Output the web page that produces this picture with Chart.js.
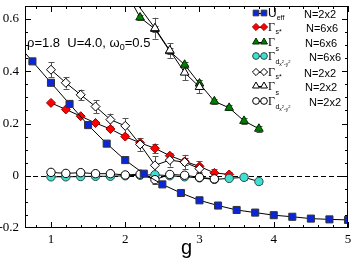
<!DOCTYPE html>
<html>
<head>
<meta charset="utf-8">
<script src="https://cdn.jsdelivr.net/npm/chart.js@4.4.1/dist/chart.umd.min.js"></script>
<style>
  html, body { margin: 0; padding: 0; background: #fff; }
  #wrap { width: 354px; height: 260px; }
</style>
</head>
<body>
<div id="wrap"><canvas id="c" width="354" height="260"></canvas></div>
<script>
// x ticks / y ticks
const xTicks = [1, 2, 3, 4, 5];
const yTicks = [-0.2, 0, 0.2, 0.4, 0.6];

// U_eff, N=2x2 (first point lies left of the visible range)
const gUeff = [0.5, 0.75, 1.0, 1.25, 1.5, 1.75, 2.0, 2.25, 2.5, 2.75, 3.0, 3.25, 3.5, 3.75, 4.0, 4.25, 4.5, 4.75, 5.0];
const uEff  = [0.52, 0.438, 0.356, 0.275, 0.194, 0.123, 0.06, 0.008, -0.033, -0.066, -0.094, -0.114, -0.131, -0.141, -0.151, -0.157, -0.164, -0.167, -0.169];

// Gamma s*, N=6x6
const gSstar6 = [1.0, 1.2, 1.4, 1.6, 1.8, 2.0, 2.2, 2.4, 2.6, 2.8, 3.0, 3.2, 3.4];
const sStar6  = [0.279, 0.254, 0.228, 0.202, 0.179, 0.150, 0.126, 0.105, 0.077, 0.055, 0.036, 0.011, 0.005];
const sStar6Err = [0.004, 0.004, 0.004, 0.005, 0.005, 0.006, 0.008, 0.018, 0.012, 0.012, 0.02, 0.015, 0.01];

// Gamma s, N=6x6 (first point above the visible range)
const gS6 = [2.0, 2.2, 2.4, 2.6, 2.8, 3.0, 3.2, 3.4, 3.6, 3.8];
const s6  = [0.71, 0.606, 0.562, 0.477, 0.425, 0.353, 0.285, 0.26, 0.21, 0.18];
const s6Err = [0.01, 0.01, 0.012, 0.012, 0.012, 0.015, 0.01, 0.01, 0.012, 0.012];

// Gamma d, N=6x6
const gD6 = [1.0, 1.2, 1.4, 1.6, 1.8, 2.0, 2.2, 2.4, 2.6, 2.8, 3.0, 3.2, 3.4, 3.6, 3.8];
const d6  = [-0.004, -0.004, -0.003, -0.002, -0.002, 0.0, 0.002, 0.004, 0.0, -0.004, -0.008, -0.014, -0.01, -0.006, -0.022];
const d6Err = [0, 0, 0, 0, 0, 0, 0, 0.012, 0, 0, 0, 0.006, 0, 0.012, 0.008];

// Gamma s*, N=2x2
const gSstar2 = [1.0, 1.2, 1.4, 1.6, 1.8, 2.0, 2.2, 2.4, 2.6, 2.8, 3.0];
const sStar2  = [0.406, 0.356, 0.31, 0.265, 0.215, 0.191, 0.12, 0.04, 0.06, 0.052, 0.027];
const sStar2Err = [0.028, 0.022, 0.02, 0.025, 0.023, 0.03, 0.025, 0.035, 0.025, 0.028, 0.018];

// Gamma s, N=2x2 (first point above the visible range)
const gS2 = [2.0, 2.4, 2.6, 2.8, 3.0];
const s2  = [0.72, 0.565, 0.48, 0.395, 0.34];
const s2Err = [0.03, 0.04, 0.028, 0.03, 0.025];

// Gamma d, N=2x2
const gD2 = [1.0, 1.2, 1.4, 1.6, 1.8, 2.0, 2.2, 2.4, 2.6, 2.8, 3.0, 3.2];
const d2  = [0.013, 0.009, 0.012, 0.008, 0.008, 0.003, 0.006, -0.015, 0.005, 0.002, -0.006, -0.012];
const d2Err = [0.003, 0.003, 0.003, 0.003, 0.003, 0.003, 0.004, 0.015, 0.004, 0.006, 0.008, 0.005];

const pts = (xs, ys) => xs.map((x, i) => ({ x, y: ys[i] }));

function ds(label, xs, ys, errs, style, r, fill, edge, order) {
  return {
    label, data: pts(xs, ys), errs,
    showLine: true, borderColor: '#000', borderWidth: 1,
    pointStyle: style, pointRadius: r, pointHoverRadius: r,
    pointBackgroundColor: fill, pointBorderColor: edge, pointBorderWidth: 1,
    order
  };
}

const datasets = [
  ds('U_eff N=2x2', gUeff, uEff, null, 'rect', 5, '#0a26dc', '#333', 0),
  ds('Γs* N=6x6', gSstar6, sStar6, sStar6Err, 'rectRot', 4.5, '#ff0000', '#900', 6),
  ds('Γs N=6x6', gS6, s6, s6Err, 'triangle', 5, '#008000', '#002800', 5),
  ds('Γd N=6x6', gD6, d6, d6Err, 'circle', 4.2, '#40e0d0', '#2a4a4a', 4),
  ds('Γs* N=2x2', gSstar2, sStar2, sStar2Err, 'rectRot', 4.5, '#ffffff', '#000', 3),
  ds('Γs N=2x2', gS2, s2, s2Err, 'triangle', 5, '#ffffff', '#000', 2),
  ds('Γd N=2x2', gD2, d2, d2Err, 'circle', 4.2, '#ffffff', '#000', 1)
];

// marker for the legend
function marker(ctx, style, x, y, r, fill, edge) {
  ctx.save();
  ctx.beginPath();
  if (style === 'rect') {
    const s = r * Math.SQRT1_2;
    ctx.rect(x - s, y - s, 2 * s, 2 * s);
  } else if (style === 'rectRot') {
    ctx.moveTo(x - r, y); ctx.lineTo(x, y - r); ctx.lineTo(x + r, y); ctx.lineTo(x, y + r); ctx.closePath();
  } else if (style === 'triangle') {
    const w = r * Math.sqrt(3) / 2;
    ctx.moveTo(x, y - r); ctx.lineTo(x + w, y + r / 2); ctx.lineTo(x - w, y + r / 2); ctx.closePath();
  } else {
    ctx.arc(x, y, r, 0, Math.PI * 2);
  }
  ctx.fillStyle = fill; ctx.fill();
  ctx.lineWidth = 1; ctx.strokeStyle = edge; ctx.stroke();
  ctx.restore();
}

function textRun(ctx, parts, x, y) {
  ctx.save();
  ctx.fillStyle = '#000';
  ctx.textBaseline = 'alphabetic';
  ctx.textAlign = 'left';
  for (const p of parts) {
    ctx.font = p.f;
    ctx.fillText(p.t, x, y + (p.dy || 0));
    x += ctx.measureText(p.t).width + (p.gap || 0);
  }
  ctx.restore();
}

const SANS = 'Liberation Sans, Arial, sans-serif';
const SERIF = 'Liberation Serif, Times New Roman, serif';
const dSub = [
  { t: 'd', f: '7px ' + SANS, dy: 4 },
  { t: 'x', f: '5px ' + SANS, dy: 6 },
  { t: '2', f: '4px ' + SANS, dy: 3 },
  { t: '-y', f: '5px ' + SANS, dy: 6 },
  { t: '2', f: '4px ' + SANS, dy: 3 }
];
const legendText = [
  [{ t: 'U', f: '12px ' + SANS }, { t: 'eff', f: '7px ' + SANS, dy: 3 }],
  [{ t: 'Γ', f: '12px ' + SERIF, gap: 0.5 }, { t: 's*', f: '7px ' + SANS, dy: 3 }],
  [{ t: 'Γ', f: '12px ' + SERIF, gap: 0.5 }, { t: 's', f: '7px ' + SANS, dy: 5 }],
  [{ t: 'Γ', f: '12px ' + SERIF, gap: 0.5 }].concat(dSub),
  [{ t: 'Γ', f: '12px ' + SERIF, gap: 0.5 }, { t: 's*', f: '7px ' + SANS, dy: 3 }],
  [{ t: 'Γ', f: '12px ' + SERIF, gap: 0.5 }, { t: 's', f: '7px ' + SANS, dy: 5 }],
  [{ t: 'Γ', f: '12px ' + SERIF, gap: 0.5 }].concat(dSub)
];
const legendN = ['N=2x2', 'N=6x6', 'N=6x6', 'N=6x6', 'N=2x2', 'N=2x2', 'N=2x2'];
const legendNX = [304, 306, 305, 309, 304, 305, 309];
const legendY = [13, 27, 42, 56, 72, 86, 101];

const decor = {
  id: 'decor',
  beforeDatasetsDraw(chart) {
    const { ctx, chartArea: a, scales: { x, y } } = chart;
    ctx.save();
    ctx.beginPath();
    ctx.rect(a.left, a.top, a.right - a.left, a.bottom - a.top);
    ctx.clip();
    // zero line
    ctx.strokeStyle = '#000';
    ctx.lineWidth = 1;
    ctx.setLineDash([5, 3]);
    const y0 = Math.round(y.getPixelForValue(0)) + 0.5;
    ctx.beginPath(); ctx.moveTo(a.left, y0); ctx.lineTo(a.right, y0); ctx.stroke();
    ctx.setLineDash([]);
    // error bars
    ctx.strokeStyle = '#555';
    chart.data.datasets.forEach(d => {
      if (!d.errs) return;
      d.data.forEach((p, i) => {
        const e = d.errs[i];
        if (!e) return;
        const px = Math.round(x.getPixelForValue(p.x)) + 0.5;
        const t = y.getPixelForValue(p.y + e), b = y.getPixelForValue(p.y - e);
        ctx.beginPath();
        ctx.moveTo(px, t); ctx.lineTo(px, b);
        ctx.moveTo(px - 3, Math.round(t) + 0.5); ctx.lineTo(px + 3, Math.round(t) + 0.5);
        ctx.moveTo(px - 3, Math.round(b) + 0.5); ctx.lineTo(px + 3, Math.round(b) + 0.5);
        ctx.stroke();
      });
    });
    ctx.restore();
  },
  afterDraw(chart) {
    const { ctx, chartArea: a, scales: { x, y } } = chart;
    ctx.save();
    ctx.strokeStyle = '#000';
    ctx.lineWidth = 1;
    ctx.strokeRect(a.left + 0.5, a.top + 0.5, a.right - a.left - 1, a.bottom - a.top - 1);
    ctx.beginPath();
    for (let v = 0.8; v <= 5.001; v += 0.2) {
      const major = Math.abs(v - Math.round(v)) < 1e-6;
      const len = major ? 6 : 3;
      const px = Math.round(x.getPixelForValue(v)) + 0.5;
      ctx.moveTo(px, a.bottom); ctx.lineTo(px, a.bottom - len);
      ctx.moveTo(px, a.top); ctx.lineTo(px, a.top + len);
    }
    for (let v = -0.15; v <= 0.651; v += 0.05) {
      const major = Math.abs(v * 5 - Math.round(v * 5)) < 1e-6;
      const len = major ? 6 : 3;
      const py = Math.round(y.getPixelForValue(v)) + 0.5;
      ctx.moveTo(a.left, py); ctx.lineTo(a.left + len, py);
      ctx.moveTo(a.right, py); ctx.lineTo(a.right - len, py);
    }
    ctx.stroke();
    ctx.restore();

    // annotation
    textRun(ctx, [
      { t: 'ρ=1.8  U=4.0, ω', f: '13px ' + SANS },
      { t: '0', f: '9px ' + SANS, dy: 3 },
      { t: '=0.5', f: '13px ' + SANS }
    ], 27, 47);

    // legend
    const ds = chart.data.datasets;
    legendY.forEach((ly, i) => {
      const d = ds[i];
      ctx.save();
      ctx.strokeStyle = '#000'; ctx.lineWidth = 1;
      ctx.beginPath(); ctx.moveTo(255, ly + 0.5); ctx.lineTo(265, ly + 0.5); ctx.stroke();
      ctx.restore();
      const rr = d.pointRadius * 0.8;
      marker(ctx, d.pointStyle, 256, ly, rr, d.pointBackgroundColor, d.pointBorderColor);
      marker(ctx, d.pointStyle, 264, ly, rr, d.pointBackgroundColor, d.pointBorderColor);
      textRun(ctx, legendText[i], 268, ly + 4);
      textRun(ctx, [{ t: legendN[i], f: '11px ' + SANS }], legendNX[i], ly + 4.5);
    });
  }
};

new Chart(document.getElementById('c'), {
  type: 'scatter',
  data: { datasets },
  options: {
    responsive: false,
    animation: false,
    events: [],
    layout: { padding: { top: 1, right: 4, left: 0, bottom: 0 } },
    plugins: { legend: { display: false }, tooltip: { enabled: false } },
    scales: {
      x: {
        type: 'linear', min: 0.65, max: 5,
        grid: { display: false, drawTicks: false },
        border: { display: false },
        afterBuildTicks: s => { s.ticks = xTicks.map(v => ({ value: v })); },
        afterFit: s => { s.height = 32; s.paddingLeft = 0; s.paddingRight = 0; },
        ticks: {
          padding: 4, color: '#000', maxRotation: 0,
          font: { family: SERIF, size: 13 },
          callback: v => String(v)
        },
        title: {
          display: true, text: 'g', color: '#000',
          font: { family: SANS, size: 20 }, padding: { top: 0, bottom: 0 }
        }
      },
      y: {
        type: 'linear', min: -0.2, max: 0.65,
        grid: { display: false, drawTicks: false },
        border: { display: false },
        afterBuildTicks: s => { s.ticks = yTicks.map(v => ({ value: v })); },
        afterFit: s => { s.width = 25; s.paddingTop = 0; s.paddingBottom = 0; },
        ticks: {
          padding: 6, color: '#000',
          font: { family: SERIF, size: 13 },
          callback: v => (v === 0 ? '0' : String(v))
        }
      }
    }
  },
  plugins: [decor]
});
</script>
</body>
</html>
